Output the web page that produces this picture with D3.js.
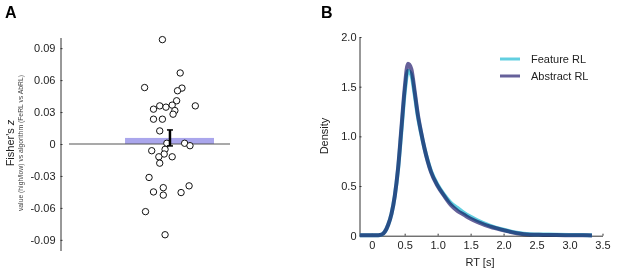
<!DOCTYPE html>
<html>
<head>
  <script src="https://d3js.org/d3.v7.min.js"></script>
  <style>
    body { margin: 0; background: #fff; }
    svg text { font-family: "Liberation Sans", Arial, Helvetica, sans-serif; }
  </style>
</head>
<body>
  <div id="chart"></div>

  <script>
    // Panel A: per-subject Fisher's z values, with horizontal jitter
    var subjZ = [0.098, 0.0667, 0.053, 0.0525, 0.050, 0.0406, 0.0358, 0.0358, 0.0327, 0.0346, 0.0365,
                 0.0314, 0.028, 0.0233, 0.0233, 0.0123, 0.0007, 0.0007, -0.0016, -0.0063, -0.005,
                 -0.0094, -0.012, -0.012, -0.018, -0.0314, -0.041, -0.045, -0.048, -0.0456, -0.0393,
                 -0.0635, -0.0852];
    var subjJitter = [-0.08, 0.12, -0.28, 0.14, 0.09, 0.08, 0.29, -0.11, -0.18, -0.04, 0.03,
                      0.06, 0.04, -0.18, -0.08, -0.11, -0.03, 0.17, 0.23, -0.20, -0.05,
                      -0.06, 0.03, -0.12, -0.11, -0.23, -0.07, -0.18, -0.07, 0.13, 0.22,
                      -0.27, -0.05];
    var meanZ = 0.0057;
    var semZ = 0.0075;
    var zTicks = [-0.09, -0.06, -0.03, 0, 0.03, 0.06, 0.09];
    var zTickLabels = ["-0.09", "-0.06", "-0.03", "0", "0.03", "0.06", "0.09"];

    // Panel B: RT density curves
    var rtX = [-0.18, 0, 0.1, 0.15, 0.2, 0.25, 0.3, 0.35, 0.4, 0.45, 0.5, 0.55, 0.6, 0.65, 0.7, 0.75,
               0.8, 0.9, 1.0, 1.1, 1.2, 1.3, 1.4, 1.5, 1.6, 1.8, 2.0, 2.2, 2.4, 2.6, 2.8, 3.0, 3.2, 3.34];
    var featureDens = [0.005, 0.005, 0.005, 0.01, 0.04, 0.11, 0.22, 0.40, 0.67, 1.05, 1.44, 1.66, 1.62,
                       1.43, 1.20, 1.03, 0.88, 0.65, 0.51, 0.41, 0.33, 0.28, 0.23, 0.19, 0.155, 0.10,
                       0.06, 0.03, 0.015, 0.012, 0.01, 0.008, 0.006, 0.004];
    var abstractDens = [0.005, 0.005, 0.005, 0.01, 0.04, 0.11, 0.22, 0.40, 0.68, 1.08, 1.48, 1.73, 1.68,
                        1.46, 1.22, 1.04, 0.88, 0.64, 0.50, 0.40, 0.31, 0.25, 0.21, 0.17, 0.14, 0.09,
                        0.055, 0.025, 0.01, 0.008, 0.006, 0.005, 0.004, 0.003];
    var rtTicks = [0, 0.5, 1, 1.5, 2, 2.5, 3, 3.5];
    var rtTickLabels = ["0", "0.5", "1.0", "1.5", "2.0", "2.5", "3.0", "3.5"];
    var densTicks = [0, 0.5, 1, 1.5, 2];
    var densTickLabels = ["0", "0.5", "1.0", "1.5", "2.0"];
    var seriesNames = ["Feature RL", "Abstract RL"];
    var seriesColors = ["#62cfe0", "#66619a"];

    var svg = d3.select("#chart")
      .append("svg")
      .attr("width", 617)
      .attr("height", 274);

    // ---------- Panel A ----------
    var yA = d3.scaleLinear().domain([-0.1, 0.1]).range([250.5, 37.5]);
    var xA = d3.scaleLinear().domain([-1.13, 0.68]).range([69, 230]);

    var gA = svg.append("g");

    var axA = gA.append("g")
      .attr("transform", "translate(60.5,0)")
      .call(d3.axisLeft(yA)
        .tickValues(zTicks)
        .tickFormat(function(d, i) { return zTickLabels[i]; })
        .tickSizeInner(-2)
        .tickSizeOuter(0)
        .tickPadding(5));
    axA.select(".domain").attr("stroke", "#333");
    axA.selectAll(".tick line").attr("stroke", "#333");
    axA.selectAll(".tick text").attr("font-size", 11).attr("fill", "#222");

    gA.append("rect")
      .attr("x", xA(-0.5))
      .attr("width", xA(0.5) - xA(-0.5))
      .attr("y", yA(meanZ))
      .attr("height", yA(0) - yA(meanZ))
      .attr("fill", "#aaa6ec");

    gA.append("line")
      .attr("x1", xA(-1.13)).attr("x2", xA(0.68))
      .attr("y1", yA(0)).attr("y2", yA(0))
      .attr("stroke", "#555").attr("stroke-width", 1.2);

    gA.selectAll("circle.subj")
      .data(subjZ)
      .enter()
      .append("circle")
      .attr("class", "subj")
      .attr("cx", function(d, i) { return xA(subjJitter[i]); })
      .attr("cy", function(d) { return yA(d); })
      .attr("r", 3.2)
      .attr("fill", "#fff")
      .attr("stroke", "#111")
      .attr("stroke-width", 1);

    var ebX = xA(0.005);
    gA.append("line")
      .attr("x1", ebX).attr("x2", ebX)
      .attr("y1", yA(meanZ + semZ)).attr("y2", yA(meanZ - semZ))
      .attr("stroke", "#000").attr("stroke-width", 2.5);
    [meanZ + semZ, meanZ - semZ].forEach(function(v) {
      gA.append("line")
        .attr("x1", ebX - 3).attr("x2", ebX + 3)
        .attr("y1", yA(v)).attr("y2", yA(v))
        .attr("stroke", "#000").attr("stroke-width", 1.5);
    });

    gA.append("text")
      .attr("x", 5).attr("y", 18)
      .attr("font-size", 16).attr("font-weight", "bold")
      .text("A");

    var labA = gA.append("text")
      .attr("transform", "rotate(-90)")
      .attr("x", -143).attr("y", 14)
      .attr("text-anchor", "middle")
      .attr("font-size", 11).attr("fill", "#222");
    labA.append("tspan").text("Fisher's ");
    labA.append("tspan").attr("font-style", "italic").text("z");

    gA.append("text")
      .attr("transform", "rotate(-90)")
      .attr("x", -143).attr("y", 22.5)
      .attr("text-anchor", "middle")
      .attr("font-size", 6.8).attr("fill", "#444")
      .text("value (high/low) vs algorithm (FeRL vs AbRL)");

    // ---------- Panel B ----------
    var xB = d3.scaleLinear().domain([-0.185, 3.5]).range([359.5, 602.5]);
    var yB = d3.scaleLinear().domain([0, 2]).range([235.7, 37]);

    var gB = svg.append("g");

    var axBx = gB.append("g")
      .attr("transform", "translate(0," + yB(0) + ")")
      .call(d3.axisBottom(xB)
        .tickValues(rtTicks)
        .tickFormat(function(d, i) { return rtTickLabels[i]; })
        .tickSizeInner(-2)
        .tickSizeOuter(0)
        .tickPadding(6));
    var axBy = gB.append("g")
      .attr("transform", "translate(" + xB.range()[0] + ",0)")
      .call(d3.axisLeft(yB)
        .tickValues(densTicks)
        .tickFormat(function(d, i) { return densTickLabels[i]; })
        .tickSizeInner(-2)
        .tickSizeOuter(0)
        .tickPadding(3));
    [axBx, axBy].forEach(function(ax) {
      ax.select(".domain").attr("stroke", "#333");
      ax.selectAll(".tick line").attr("stroke", "#333");
      ax.selectAll(".tick text").attr("font-size", 11).attr("fill", "#222");
    });

    var line = d3.line()
      .x(function(d, i) { return xB(rtX[i]); })
      .y(function(d) { return yB(d); })
      .curve(d3.curveMonotoneX);

    gB.append("path")
      .datum(featureDens)
      .attr("d", line)
      .attr("fill", "none")
      .attr("stroke", seriesColors[0])
      .attr("stroke-width", 4)
      .attr("stroke-linejoin", "round");

    gB.append("path")
      .datum(abstractDens)
      .attr("d", line)
      .attr("fill", "none")
      .attr("stroke", seriesColors[1])
      .attr("stroke-width", 4)
      .attr("stroke-linejoin", "round")
      .style("mix-blend-mode", "multiply");

    var legend = gB.selectAll("g.leg")
      .data(seriesNames)
      .enter()
      .append("g")
      .attr("class", "leg")
      .attr("transform", function(d, i) { return "translate(500," + (59 + i * 17) + ")"; });
    legend.append("line")
      .attr("x1", 0).attr("x2", 20)
      .attr("stroke", function(d, i) { return seriesColors[i]; })
      .attr("stroke-width", 3);
    legend.append("text")
      .attr("x", 31).attr("y", 4)
      .attr("font-size", 11).attr("fill", "#222")
      .text(function(d) { return d; });

    gB.append("text")
      .attr("x", 321).attr("y", 18)
      .attr("font-size", 16).attr("font-weight", "bold")
      .text("B");

    gB.append("text")
      .attr("transform", "rotate(-90)")
      .attr("x", -136).attr("y", 328)
      .attr("text-anchor", "middle")
      .attr("font-size", 11).attr("fill", "#222")
      .text("Density");

    gB.append("text")
      .attr("x", 480).attr("y", 266)
      .attr("text-anchor", "middle")
      .attr("font-size", 11).attr("fill", "#222")
      .text("RT [s]");
  </script>
</body>
</html>
